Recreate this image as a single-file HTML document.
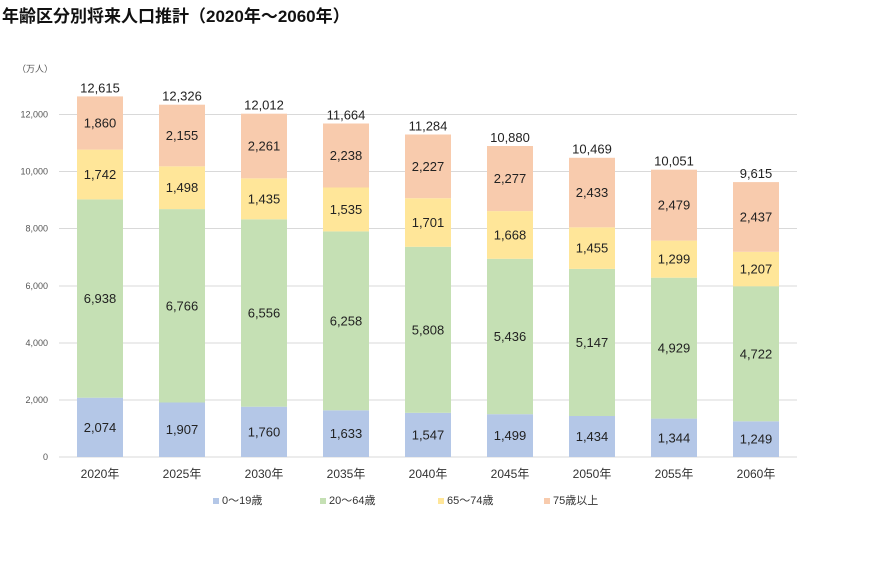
<!DOCTYPE html>
<html><head><meta charset="utf-8"><style>
body{margin:0;background:#fff;}
svg text{font-family:"Liberation Sans","Noto Sans CJK JP",sans-serif;}
</style></head><body>
<svg width="881" height="571" xmlns="http://www.w3.org/2000/svg">
<text x="2" y="22" font-size="17" font-weight="bold" fill="#111">年齢区分別将来人口推計（2020年～2060年）</text>
<text x="17" y="72" font-size="9" fill="#555">（万人）</text>
<g stroke="#d9d9d9" stroke-width="1">
<line x1="59" x2="797" y1="457" y2="457"/><line x1="59" x2="797" y1="400" y2="400"/>
<line x1="59" x2="797" y1="343" y2="343"/><line x1="59" x2="797" y1="286" y2="286"/>
<line x1="59" x2="797" y1="228.5" y2="228.5"/><line x1="59" x2="797" y1="171.5" y2="171.5"/>
<line x1="59" x2="797" y1="114.5" y2="114.5"/>
</g>
<g font-size="9" fill="#555" text-anchor="end" dominant-baseline="central">
<text x="48" y="457">0</text><text x="48" y="400">2,000</text><text x="48" y="343">4,000</text>
<text x="48" y="286">6,000</text><text x="48" y="228.5">8,000</text><text x="48" y="171.5">10,000</text>
<text x="48" y="114.5">12,000</text>
</g>
<g>
<rect x="77" y="397.7" width="46" height="59.3" fill="#b4c7e7"/><rect x="77" y="199.4" width="46" height="198.3" fill="#c5e0b4"/><rect x="77" y="149.6" width="46" height="49.8" fill="#ffe699"/><rect x="77" y="96.4" width="46" height="53.2" fill="#f8cbad"/>
<rect x="159" y="402.5" width="46" height="54.5" fill="#b4c7e7"/><rect x="159" y="209.1" width="46" height="193.4" fill="#c5e0b4"/><rect x="159" y="166.3" width="46" height="42.8" fill="#ffe699"/><rect x="159" y="104.7" width="46" height="61.6" fill="#f8cbad"/>
<rect x="241" y="406.7" width="46" height="50.3" fill="#b4c7e7"/><rect x="241" y="219.3" width="46" height="187.4" fill="#c5e0b4"/><rect x="241" y="178.3" width="46" height="41" fill="#ffe699"/><rect x="241" y="113.7" width="46" height="64.6" fill="#f8cbad"/>
<rect x="323" y="410.3" width="46" height="46.7" fill="#b4c7e7"/><rect x="323" y="231.4" width="46" height="178.9" fill="#c5e0b4"/><rect x="323" y="187.5" width="46" height="43.9" fill="#ffe699"/><rect x="323" y="123.5" width="46" height="64" fill="#f8cbad"/>
<rect x="405" y="412.8" width="46" height="44.2" fill="#b4c7e7"/><rect x="405" y="246.8" width="46" height="166" fill="#c5e0b4"/><rect x="405" y="198.2" width="46" height="48.6" fill="#ffe699"/><rect x="405" y="134.5" width="46" height="63.7" fill="#f8cbad"/>
<rect x="487" y="414.2" width="46" height="42.8" fill="#b4c7e7"/><rect x="487" y="258.8" width="46" height="155.4" fill="#c5e0b4"/><rect x="487" y="211.1" width="46" height="47.7" fill="#ffe699"/><rect x="487" y="146" width="46" height="65.1" fill="#f8cbad"/>
<rect x="569" y="416" width="46" height="41" fill="#b4c7e7"/><rect x="569" y="268.9" width="46" height="147.1" fill="#c5e0b4"/><rect x="569" y="227.3" width="46" height="41.6" fill="#ffe699"/><rect x="569" y="157.8" width="46" height="69.5" fill="#f8cbad"/>
<rect x="651" y="418.6" width="46" height="38.4" fill="#b4c7e7"/><rect x="651" y="277.7" width="46" height="140.9" fill="#c5e0b4"/><rect x="651" y="240.6" width="46" height="37.1" fill="#ffe699"/><rect x="651" y="169.7" width="46" height="70.9" fill="#f8cbad"/>
<rect x="733" y="421.3" width="46" height="35.7" fill="#b4c7e7"/><rect x="733" y="286.3" width="46" height="135" fill="#c5e0b4"/><rect x="733" y="251.8" width="46" height="34.5" fill="#ffe699"/><rect x="733" y="182.1" width="46" height="69.7" fill="#f8cbad"/>
</g>
<g font-size="13" fill="#222" text-anchor="middle" dominant-baseline="central">
<text x="100" y="427.3">2,074</text><text x="100" y="298.5">6,938</text><text x="100" y="174.5">1,742</text><text x="100" y="123">1,860</text><text x="100" y="88">12,615</text>
<text x="182" y="429.7">1,907</text><text x="182" y="305.8">6,766</text><text x="182" y="187.7">1,498</text><text x="182" y="135.5">2,155</text><text x="182" y="96">12,326</text>
<text x="264" y="431.8">1,760</text><text x="264" y="313">6,556</text><text x="264" y="198.8">1,435</text><text x="264" y="146">2,261</text><text x="264" y="105">12,012</text>
<text x="346" y="433.6">1,633</text><text x="346" y="320.8">6,258</text><text x="346" y="209.4">1,535</text><text x="346" y="155.5">2,238</text><text x="346" y="115">11,664</text>
<text x="428" y="434.9">1,547</text><text x="428" y="329.8">5,808</text><text x="428" y="222.5">1,701</text><text x="428" y="166.3">2,227</text><text x="428" y="126">11,284</text>
<text x="510" y="435.6">1,499</text><text x="510" y="336.5">5,436</text><text x="510" y="235">1,668</text><text x="510" y="178.5">2,277</text><text x="510" y="137.5">10,880</text>
<text x="592" y="436.5">1,434</text><text x="592" y="342.5">5,147</text><text x="592" y="248.1">1,455</text><text x="592" y="192.5">2,433</text><text x="592" y="149">10,469</text>
<text x="674" y="437.8">1,344</text><text x="674" y="348.2">4,929</text><text x="674" y="259.2">1,299</text><text x="674" y="205.2">2,479</text><text x="674" y="161">10,051</text>
<text x="756" y="439.2">1,249</text><text x="756" y="353.8">4,722</text><text x="756" y="269">1,207</text><text x="756" y="217">2,437</text><text x="756" y="173.5">9,615</text>
</g>
<g font-size="12" fill="#333" text-anchor="middle" dominant-baseline="central">
<text x="100" y="474">2020年</text><text x="182" y="474">2025年</text><text x="264" y="474">2030年</text>
<text x="346" y="474">2035年</text><text x="428" y="474">2040年</text><text x="510" y="474">2045年</text>
<text x="592" y="474">2050年</text><text x="674" y="474">2055年</text><text x="756" y="474">2060年</text>
</g>
<g font-size="11" fill="#333" dominant-baseline="central">
<rect x="213" y="498" width="6" height="6" fill="#b4c7e7"/><text x="222" y="501">0～19歳</text>
<rect x="320" y="498" width="6" height="6" fill="#c5e0b4"/><text x="329" y="501">20～64歳</text>
<rect x="438" y="498" width="6" height="6" fill="#ffe699"/><text x="447" y="501">65～74歳</text>
<rect x="544" y="498" width="6" height="6" fill="#f8cbad"/><text x="553" y="501">75歳以上</text>
</g>
</svg>
</body></html>
